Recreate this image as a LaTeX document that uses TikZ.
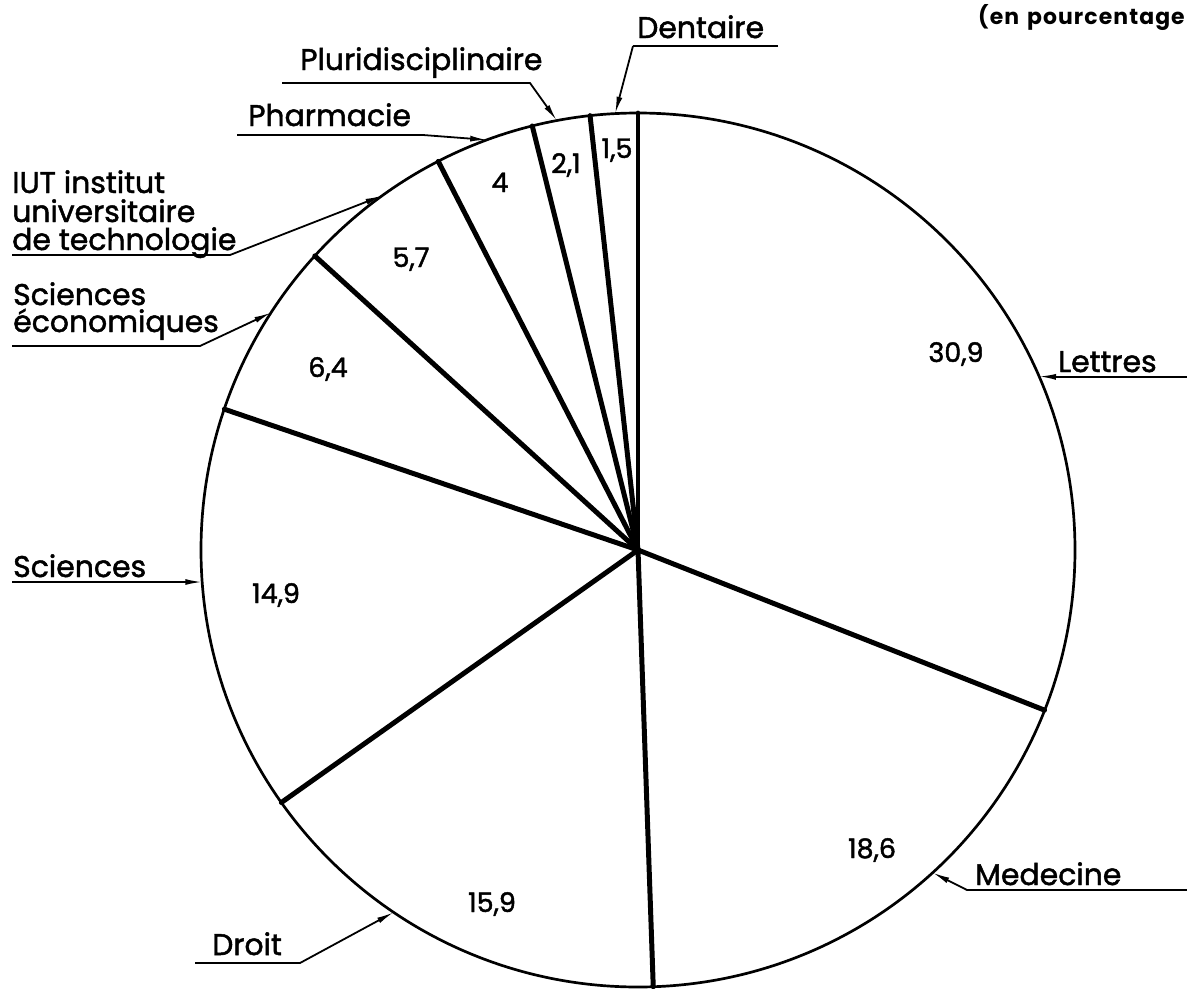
\documentclass[tikz,border=0pt]{standalone}
\usepackage{fontspec}
\setmainfont{Poppins}
\newfontfamily\letterfont{Poppins}[FakeBold=1.6]
\newfontfamily\notefont{Poppins}[LetterSpace=5]
\usetikzlibrary{arrows.meta,calc}
\begin{document}
\begin{tikzpicture}[x=1bp,y=-1bp,
  rim/.style={line width=2.7pt},
  sep/.style={line width=5pt,line cap=round},
  leader/.style={line width=1.8pt,-{Latex[length=17pt,width=6pt]}},
  underline/.style={line width=1.8pt},
  lab/.style={font=\letterfont\fontsize{30}{30}\selectfont,inner sep=0pt,anchor=base west},
  pct/.style={font=\letterfont\fontsize{27}{27}\selectfont,inner sep=0pt,anchor=base},
  note/.style={font=\notefont\fontsize{22}{22}\selectfont\bfseries,inner sep=0pt,anchor=base west}]
\useasboundingbox (0,0) rectangle (1187,989);
\fill[white] (0,0) rectangle (1187,989);

% pie
\coordinate (c) at (638,550);
\def\R{437}
\draw[rim] (c) circle[radius=\R];
\foreach \a in {90,96.3,104,117.2,137.7,161.2,215.3,272,338.5}
  \draw[sep] (c) -- ($(c)+(-\a:\R)$);

% values
\node[pct] (v1) at (956,362) {30,9};
\node[pct] (v2) at (872,858) {18,6};
\node[pct] (v3) at (492,912) {15,9};
\node[pct] (v4) at (276,603) {14,9};
\node[pct] (v5) at (328,377) {6,4};
\node[pct] (v6) at (411,267) {5,7};
\node[pct] (v7) at (500,192) {4};
\node[pct] (v8) at (566,173) {2,1};
\node[pct] (v9) at (617,158) {1,5};

% arrow tips on the rim
\coordinate (tDen) at ($(c)+(-93:\R)$);
\coordinate (tPlu) at ($(c)+(-100.7:\R)$);
\coordinate (tPha) at ($(c)+(-110.2:\R)$);
\coordinate (tIut) at ($(c)+(-125.8:\R)$);
\coordinate (tEco) at ($(c)+(-147.1:\R)$);
\coordinate (tSci) at ($(c)+(-184.2:\R)$);
\coordinate (tDro) at ($(c)+(-236:\R)$);
\coordinate (tMed) at ($(c)+(-312.4:\R)$);
\coordinate (tLet) at ($(c)+(-23.4:\R)$);

% labels
\node[note] (unit) at (978,24) {(en\hspace{8pt}pourcentage};

\node[lab] (den) at (637,38) {Dentaire};
\coordinate (den0) at (633,46); \coordinate (den1) at (778,46);
\draw[underline] (den1) -- (den0);
\draw[leader] (den0) -- (tDen);

\node[lab] (plu) at (300,70) {Pluridisciplinaire};
\coordinate (plu0) at (282,83); \coordinate (plu1) at (530,83);
\draw[leader] (plu0) -- (plu1) -- (tPlu);

\node[lab] (pha) at (248,126) {Pharmacie};
\coordinate (pha0) at (237,135); \coordinate (pha1) at (423,135);
\draw[leader] (pha0) -- (pha1) -- (tPha);

\node[lab] (iut1) at (12,193) {IUT institut};
\node[lab] (iut2) at (12,222) {universitaire};
\node[lab] (iut3) at (12,250) {de technologie};
\coordinate (iut0) at (12,255); \coordinate (iutk) at (230,255);
\draw[leader] (iut0) -- (iutk) -- (tIut);

\node[lab] (eco1) at (13,305) {Sciences};
\node[lab] (eco2) at (13,332) {économiques};
\coordinate (eco0) at (12,346); \coordinate (ecok) at (200,346);
\draw[leader] (eco0) -- (ecok) -- (tEco);

\node[lab] (sci) at (13,577) {Sciences};
\coordinate (sci0) at (12,582);
\draw[leader] (sci0) -- (tSci);

\node[lab] (dro) at (212,955) {Droit};
\coordinate (dro0) at (195,963); \coordinate (drok) at (300,963);
\draw[leader] (dro0) -- (drok) -- (tDro);

\node[lab] (med) at (975,885) {Medecine};
\coordinate (med0) at (1187,890); \coordinate (medk) at (967,890);
\draw[leader] (med0) -- (medk) -- (tMed);

\node[lab] (let) at (1058,372) {Lettres};
\coordinate (let0) at (1187,377); \coordinate (letk) at (1060,377);
\draw[leader] (let0) -- (letk) -- (tLet);
\end{tikzpicture}
\end{document}
